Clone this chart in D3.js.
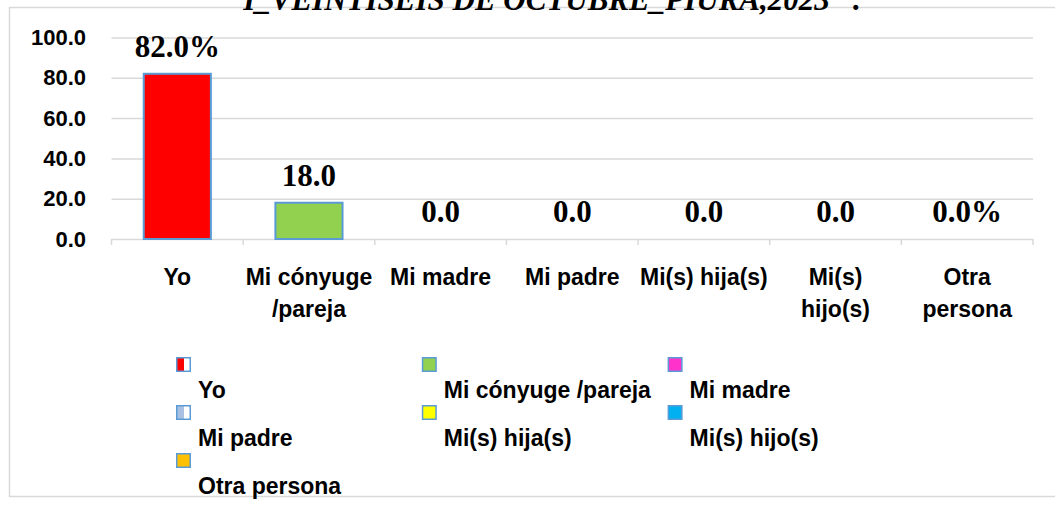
<!DOCTYPE html>
<html>
<head>
<meta charset="utf-8">
<script src="https://cdn.jsdelivr.net/npm/d3@7"></script>
<style>
  body { margin: 0; background: #fff; }
  svg { display: block; }
</style>
</head>
<body>
<div id="chart"></div>
<script>
// data
const categories = ["Yo", "Mi cónyuge /pareja", "Mi madre", "Mi padre", "Mi(s) hija(s)", "Mi(s) hijo(s)", "Otra persona"];
const values = [82.0, 18.0, 0.0, 0.0, 0.0, 0.0, 0.0];
const tickLabels = [["Yo"], ["Mi cónyuge", "/pareja"], ["Mi madre"], ["Mi padre"], ["Mi(s) hija(s)"], ["Mi(s)", "hijo(s)"], ["Otra", "persona"]];
const yTicks = [0, 20, 40, 60, 80, 100];
const barColors = ["#ff0000", "#92d050", "#ff33cc", "#a9c0e3", "#ffff00", "#00b0f0", "#ffc000"];
const titleText = "I_VEINTISEIS DE OCTUBRE_PIURA,2023\u201D .";

const W = 1055, H = 515;
const sans = "'Liberation Sans', Arial, sans-serif";
const serif = "'Liberation Serif', 'Times New Roman', serif";
const plot = { left: 111.5, right: 1033, top: 37.5, bottom: 239 };

const svg = d3.select("#chart").append("svg")
    .attr("width", W)
    .attr("height", H);

// gradients for the half-filled legend swatches
const defs = svg.append("defs");
function halfGrad(id, color) {
    const g = defs.append("linearGradient").attr("id", id);
    g.append("stop").attr("offset", "55%").attr("stop-color", color);
    g.append("stop").attr("offset", "55%").attr("stop-color", "#fff");
}
halfGrad("gYo", "#ff0000");
halfGrad("gPadre", "#a9c0e3");

// outer frame
svg.append("rect")
    .attr("x", 9.5).attr("y", 7.5)
    .attr("width", 1060).attr("height", 489)
    .attr("fill", "none")
    .attr("stroke", "#d9d9d9")
    .attr("stroke-width", 1.5);

// title (clipped by the top of the page, like the reference)
svg.append("text")
    .attr("x", 552).attr("y", 10)
    .attr("text-anchor", "middle")
    .style("font-family", serif)
    .style("font-weight", "bold")
    .style("font-style", "italic")
    .style("font-size", "31px")
    .text(titleText);

const x = d3.scaleBand()
    .domain(categories)
    .range([plot.left, plot.right])
    .paddingInner(0.49)
    .paddingOuter(0.245);

const y = d3.scaleLinear()
    .domain([0, 100])
    .range([plot.bottom, plot.top]);

// y axis + gridlines
const yAxis = svg.append("g")
    .attr("transform", `translate(${plot.left},0)`)
    .call(d3.axisLeft(y)
        .tickValues(yTicks)
        .tickSize(-(plot.right - plot.left))
        .tickPadding(25.5)
        .tickFormat(d3.format(".1f")));
yAxis.select(".domain").remove();
yAxis.selectAll("line").attr("stroke", "#d9d9d9").attr("stroke-width", 1.5);
yAxis.selectAll("text")
    .attr("fill", "#000")
    .style("font-family", sans)
    .style("font-weight", "bold")
    .style("font-size", "22px");

// category ticks at the band edges
const step = x.step();
const edges = categories.map(c => x(c) - step * x.paddingInner() / 2).concat([plot.right]);
svg.append("g").selectAll("line")
    .data(edges)
    .join("line")
    .attr("x1", d => d).attr("x2", d => d)
    .attr("y1", plot.bottom).attr("y2", plot.bottom + 6)
    .attr("stroke", "#d9d9d9")
    .attr("stroke-width", 1.5);

// x axis labels
const xAxis = svg.append("g")
    .attr("transform", `translate(0,${plot.bottom})`)
    .call(d3.axisBottom(x).tickSize(0));
xAxis.select(".domain").remove();
xAxis.selectAll("text")
    .attr("fill", "#000")
    .attr("dy", null)
    .attr("y", null)
    .style("font-family", sans)
    .style("font-weight", "bold")
    .style("font-size", "23px")
    .text(null)
    .each(function(d, i) {
        d3.select(this).selectAll("tspan")
            .data(tickLabels[categories.indexOf(d)])
            .join("tspan")
            .attr("x", 0)
            .attr("y", (t, j) => 46 + j * 31.5)
            .text(t => t);
    });

// bars
const data = categories.map((c, i) => ({ cat: c, value: values[i], color: barColors[i] }));
svg.selectAll(".bar")
    .data(data)
    .join("rect")
    .attr("class", "bar")
    .attr("x", d => x(d.cat))
    .attr("y", d => y(d.value))
    .attr("width", x.bandwidth())
    .attr("height", d => y(0) - y(d.value))
    .attr("fill", d => d.color)
    .attr("stroke", d => d.value > 0 ? "#5b9bd5" : "none")
    .attr("stroke-width", 2);

// value labels
const fmt = d3.format(".1f");
svg.selectAll(".val")
    .data(data)
    .join("text")
    .attr("class", "val")
    .attr("x", d => x(d.cat) + x.bandwidth() / 2)
    .attr("y", d => y(d.value) - 17)
    .attr("text-anchor", "middle")
    .style("font-family", serif)
    .style("font-weight", "bold")
    .style("font-size", "31px")
    .text((d, i) => fmt(d.value) + (i === 0 || i === data.length - 1 ? "%" : ""));

// legend: swatch above label, 3 columns
const legendFill = ["url(#gYo)", barColors[1], barColors[2], "url(#gPadre)", barColors[4], barColors[5], barColors[6]];
const legend = svg.append("g").selectAll("g")
    .data(categories)
    .join("g")
    .attr("transform", (d, i) => `translate(${176 + (i % 3) * 245.8},${357 + Math.floor(i / 3) * 48})`);
legend.append("rect")
    .attr("x", 0.75).attr("y", 0.75)
    .attr("width", 13.5).attr("height", 13.5)
    .attr("fill", (d, i) => legendFill[i])
    .attr("stroke", "#5b9bd5")
    .attr("stroke-width", 1.5);
legend.append("text")
    .attr("x", 22).attr("y", 41)
    .style("font-family", sans)
    .style("font-weight", "bold")
    .style("font-size", "23px")
    .text(d => d);
</script>
</body>
</html>
